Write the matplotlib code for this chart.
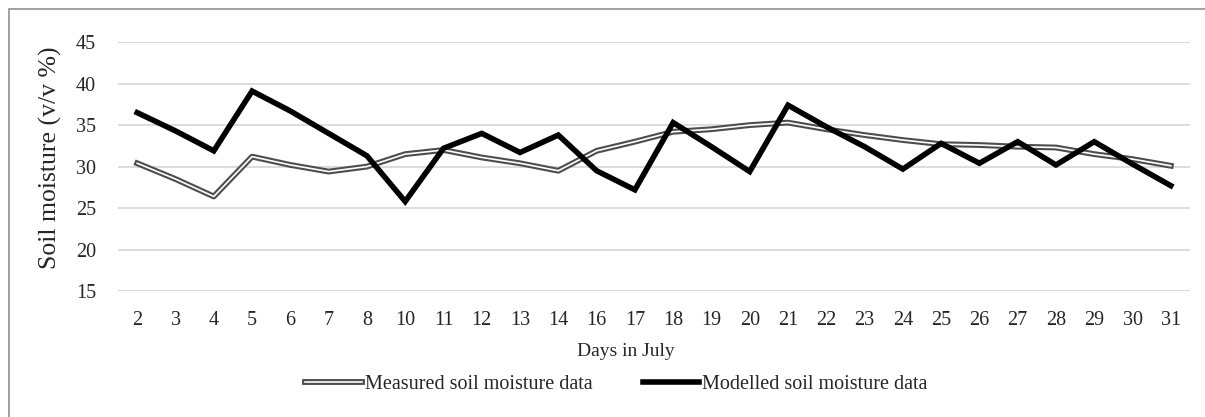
import matplotlib
matplotlib.use("Agg")
import matplotlib.pyplot as plt
import matplotlib.patheffects as pe
from matplotlib.patches import Rectangle

days = ["2", "3", "4", "5", "6", "7", "8", "10", "11", "12", "13", "14", "16", "17",
        "18", "19", "20", "21", "22", "23", "24", "25", "26", "27", "28", "29", "30", "31"]
measured = [30.4, 28.5, 26.4, 31.2, 30.2, 29.4, 30.0, 31.5, 32.0, 31.1, 30.4, 29.5, 31.9, 33.0,
            34.2, 34.5, 35.0, 35.3, 34.5, 33.8, 33.2, 32.7, 32.6, 32.4, 32.3, 31.5, 30.9, 30.1]
modelled = [36.5, 34.3, 31.9, 39.1, 36.7, 34.0, 31.3, 25.8, 32.2, 34.0, 31.7, 33.8, 29.5, 27.2,
            35.3, 32.4, 29.4, 37.4, 34.8, 32.4, 29.7, 32.8, 30.4, 33.0, 30.2, 33.0, 30.3, 27.7]
yticks = [15, 20, 25, 30, 35, 40, 45]

plt.rcParams['font.family'] = ['Liberation Serif', 'DejaVu Serif']

fig = plt.figure(figsize=(12.05, 4.17), dpi=100)
ax = fig.add_axes([0.098, 0.302, 0.8895, 0.597])

x = list(range(len(days)))
ax.plot(x, measured, color="white", lw=1.2,
        path_effects=[pe.Stroke(linewidth=4.2, foreground="#4d4d4d"), pe.Normal()],
        label="Measured soil moisture data", solid_joinstyle="round")
ax.plot(x, modelled, color="black", lw=4, label="Modelled soil moisture data",
        solid_joinstyle="miter")

ax.set_xlim(-0.5, len(days) - 0.5)
ax.set_ylim(15, 45)
ax.set_yticks(yticks)
ax.set_xticks(x)
ax.set_xticklabels(days)
ax.grid(axis="y", color="#d9d9d9", lw=1.3)
ax.set_axisbelow(True)
for s in ax.spines.values():
    s.set_visible(False)
ax.tick_params(length=0, labelsize=14.5, colors="#262626", pad=14)
ax.tick_params(axis="y", pad=16)

ax.set_ylabel("Soil moisture (v/v %)", fontsize=18.5, color="#262626")
ax.yaxis.set_label_coords(-0.052, 0.535)
ax.set_xlabel("Days in July", fontsize=14, color="#262626")
ax.xaxis.set_label_coords(0.474, -0.21)

leg = ax.legend(loc="center", bbox_to_anchor=(0.465, -0.375), ncol=2, frameon=False,
                fontsize=14.5, handlelength=2.8, handletextpad=0.15, columnspacing=2.5)
for t in leg.get_texts():
    t.set_color("#262626")

fig.patches.append(Rectangle((9 / 1205, -0.1), 1.2, 1 - 9 / 417 + 0.1,
                             transform=fig.transFigure, fill=False,
                             edgecolor="#9a9a9a", lw=1.3))

fig.savefig("out.png", dpi=100)
